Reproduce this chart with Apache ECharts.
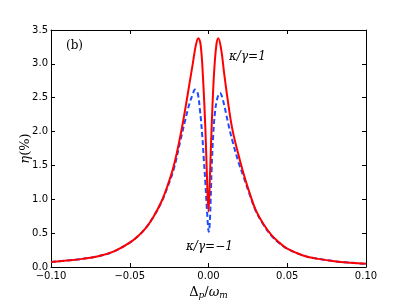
<!DOCTYPE html>
<html>
<head>
<meta charset="utf-8">
<script src="https://cdn.jsdelivr.net/npm/echarts@6/dist/echarts.min.js"></script>
<style>html,body{margin:0;padding:0;background:#fff}#c{width:407px;height:305px}</style>
</head>
<body>
<div id="c"></div>
<script>
// Red solid curve (kappa/gamma = 1)
const redX = [-0.100,-0.090,-0.080,-0.070,-0.060,-0.050,-0.045,-0.040,-0.035,-0.030,-0.026,-0.022,-0.018,-0.015,-0.012,-0.010,-0.008,-0.0065,-0.005,-0.0035,-0.002,-0.001,0.0,0.001,0.002,0.0035,0.005,0.0062,0.008,0.010,0.012,0.015,0.018,0.022,0.026,0.030,0.035,0.040,0.045,0.050,0.060,0.070,0.080,0.090,0.100];
const redY = [0.075,0.095,0.12,0.16,0.23,0.36,0.45,0.57,0.74,0.96,1.20,1.50,1.92,2.30,2.72,3.00,3.28,3.38,3.28,2.80,2.05,1.35,0.82,1.40,2.07,2.85,3.28,3.38,3.22,2.85,2.50,2.05,1.75,1.40,1.10,0.84,0.63,0.47,0.36,0.27,0.17,0.12,0.085,0.063,0.047];
// Blue dashed curve (kappa/gamma = -1)
const blueX = [-0.100,-0.090,-0.080,-0.070,-0.060,-0.050,-0.045,-0.040,-0.035,-0.030,-0.026,-0.022,-0.018,-0.015,-0.012,-0.010,-0.0086,-0.007,-0.0054,-0.004,-0.003,-0.002,-0.001,0.0002,0.001,0.002,0.003,0.0041,0.0055,0.0073,0.009,0.0126,0.015,0.019,0.022,0.026,0.030,0.035,0.040,0.045,0.050,0.060,0.070,0.080,0.090,0.100];
const blueY = [0.075,0.095,0.12,0.16,0.23,0.36,0.45,0.57,0.74,0.95,1.18,1.45,1.85,2.15,2.42,2.55,2.62,2.58,2.31,1.95,1.60,1.25,0.85,0.52,0.75,1.45,1.95,2.28,2.48,2.57,2.48,2.11,1.88,1.55,1.35,1.08,0.83,0.62,0.46,0.35,0.27,0.17,0.12,0.085,0.063,0.047];
const xTicks = [-0.10,-0.05,0.00,0.05,0.10];
const yTicks = [0.0,0.5,1.0,1.5,2.0,2.5,3.0,3.5];

const chart = echarts.init(document.getElementById('c'), null, {renderer:'canvas'});
const tickFont = {fontFamily:'DejaVu Sans', fontSize:10, color:'#000'};
const fmtX = v => (v < 0 ? '\u2212' : '') + Math.abs(v).toFixed(2);
const fmtY = v => v.toFixed(1);
const frameLine = {show:true, onZero:false, lineStyle:{color:'#000', width:1}};
const tick = {show:true, inside:true, length:4, lineStyle:{color:'#000', width:1}};

chart.setOption({
  animation:false,
  backgroundColor:'#fff',
  grid:{left:51, right:41, top:30, bottom:31, containLabel:false},
  xAxis:[{
    type:'value', min:-0.1, max:0.1, interval:0.05, position:'bottom',
    axisLine:frameLine, axisTick:tick, splitLine:{show:false},
    axisLabel:Object.assign({formatter:fmtX, margin:4}, tickFont),
    name:'{d|\u0394}{s|p}{d|/}{i|\u03c9}{s|m}', nameLocation:'middle', nameGap:18,
    nameTextStyle:{rich:{
      d:{fontFamily:'DejaVu Serif', fontSize:13, color:'#000'},
      i:{fontFamily:'DejaVu Serif', fontStyle:'italic', fontSize:13, color:'#000'},
      s:{fontFamily:'DejaVu Serif', fontStyle:'italic', fontSize:9, color:'#000', verticalAlign:'bottom', padding:[6,0,0,0]}
    }}
  },{
    type:'value', min:-0.1, max:0.1, interval:0.05, position:'top',
    axisLine:frameLine, axisTick:tick, axisLabel:{show:false}, splitLine:{show:false}
  }],
  yAxis:[{
    type:'value', min:0, max:3.5, interval:0.5, position:'left',
    axisLine:frameLine, axisTick:tick, splitLine:{show:false},
    axisLabel:Object.assign({formatter:fmtY, margin:3}, tickFont),
    name:'{i|\u03b7}{d|(%)}', nameLocation:'middle', nameGap:19, nameRotate:90,
    nameMoveOverlap:false,
    nameTextStyle:{rich:{
      d:{fontFamily:'DejaVu Serif', fontSize:13, color:'#000'},
      i:{fontFamily:'DejaVu Serif', fontStyle:'italic', fontSize:13, color:'#000'}
    }}
  },{
    type:'value', min:0, max:3.5, interval:0.5, position:'right',
    axisLine:frameLine, axisTick:tick, axisLabel:{show:false}, splitLine:{show:false}
  }],
  series:[{
    type:'line', xAxisIndex:0, yAxisIndex:0, showSymbol:false, symbol:'none',
    smooth:0.4,
    lineStyle:{color:'#1a4dff', width:2, type:[5,3]},
    data: blueX.map((x,i)=>[x, blueY[i]]), z:2
  },{
    type:'line', xAxisIndex:0, yAxisIndex:0, showSymbol:false, symbol:'none',
    smooth:0.4,
    lineStyle:{color:'#ff0000', width:2},
    data: redX.map((x,i)=>[x, redY[i]]), z:3
  }],
  graphic:[
    {type:'text', left:66, top:40, style:{text:'(b)', font:'12px "DejaVu Serif"', fill:'#000'}},
    {type:'text', left:229, top:51, style:{text:'\u03ba/\u03b3=1', font:'italic 12px "DejaVu Serif"', fill:'#000'}},
    {type:'text', left:186, top:241, style:{text:'\u03ba/\u03b3=\u22121', font:'italic 12px "DejaVu Serif"', fill:'#000'}}
  ]
});
</script>
</body>
</html>
